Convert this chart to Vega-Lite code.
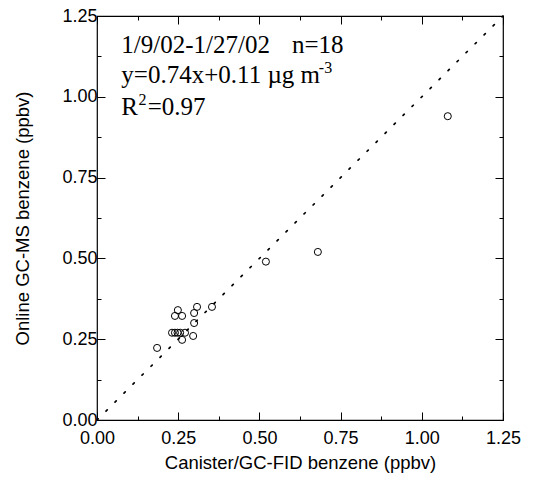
{
  "$schema": "https://vega.github.io/schema/vega-lite/v6.json",
  "width": 406,
  "height": 404,
  "autosize": "none",
  "padding": {"left": 97, "top": 16, "right": 41, "bottom": 76},
  "background": "white",
  "config": {
    "view": {"stroke": "black", "strokeWidth": 1.2},
    "font": "Liberation Sans"
  },
  "datasets": {
    "points": [
      {"canister": 0.185, "online": 0.223},
      {"canister": 0.231, "online": 0.27},
      {"canister": 0.24, "online": 0.27},
      {"canister": 0.256, "online": 0.27},
      {"canister": 0.271, "online": 0.27},
      {"canister": 0.248, "online": 0.27},
      {"canister": 0.24, "online": 0.322},
      {"canister": 0.262, "online": 0.322},
      {"canister": 0.249, "online": 0.34},
      {"canister": 0.262, "online": 0.248},
      {"canister": 0.296, "online": 0.26},
      {"canister": 0.299, "online": 0.30},
      {"canister": 0.299, "online": 0.331},
      {"canister": 0.308, "online": 0.35},
      {"canister": 0.354, "online": 0.35},
      {"canister": 0.52, "online": 0.49},
      {"canister": 0.68, "online": 0.52},
      {"canister": 1.08, "online": 0.94}
    ],
    "oneToOne": [
      {"canister": 0.0, "online": 0.0},
      {"canister": 1.25, "online": 1.25}
    ],
    "one": [{}]
  },
  "resolve": {"axis": {"x": "independent", "y": "independent"}},
  "layer": [
    {
      "data": {"name": "points"},
      "mark": {"type": "point", "shape": "circle", "filled": false, "stroke": "black", "strokeWidth": 1, "size": 50, "opacity": 1},
      "encoding": {
        "x": {
          "field": "canister", "type": "quantitative",
          "scale": {"domain": [0, 1.25], "nice": false, "zero": false},
          "axis": {
            "orient": "bottom",
            "title": "Canister/GC-FID benzene (ppbv)",
            "values": [0, 0.125, 0.25, 0.375, 0.5, 0.625, 0.75, 0.875, 1, 1.125, 1.25],
            "labelExpr": "(datum.value * 4) % 1 === 0 ? format(datum.value, '.2f') : ''",
            "tickSize": {"condition": {"test": "(datum.value * 4) % 1 !== 0", "value": -4}, "value": -8},
            "tickColor": "black", "tickWidth": 1,
            "domain": false, "grid": false,
            "labelFont": "Liberation Sans", "labelFontSize": 18, "labelColor": "black", "labelPadding": 17,
            "labelOverlap": false, "labelFlush": false,
            "titleFont": "Liberation Sans", "titleFontSize": 18.5, "titleFontWeight": "normal", "titleColor": "black", "titlePadding": 2
          }
        },
        "y": {
          "field": "online", "type": "quantitative",
          "scale": {"domain": [0, 1.25], "nice": false, "zero": false},
          "axis": {
            "orient": "left",
            "title": "Online GC-MS benzene (ppbv)",
            "values": [0, 0.125, 0.25, 0.375, 0.5, 0.625, 0.75, 0.875, 1, 1.125, 1.25],
            "labelExpr": "(datum.value * 4) % 1 === 0 ? format(datum.value, '.2f') : ''",
            "tickSize": {"condition": {"test": "(datum.value * 4) % 1 !== 0", "value": -4}, "value": -8},
            "tickColor": "black", "tickWidth": 1,
            "domain": false, "grid": false,
            "labelFont": "Liberation Sans", "labelFontSize": 18, "labelColor": "black", "labelPadding": 8,
            "labelOverlap": false, "labelFlush": false,
            "titleFont": "Liberation Sans", "titleFontSize": 18.5, "titleFontWeight": "normal", "titleColor": "black", "titlePadding": 29
          }
        }
      }
    },
    {
      "data": {"name": "oneToOne"},
      "mark": {"type": "line", "stroke": "black", "strokeWidth": 1.7, "strokeDash": [1.7, 11], "strokeCap": "round"},
      "encoding": {
        "x": {
          "field": "canister", "type": "quantitative",
          "axis": {
            "orient": "top", "title": null, "labels": false,
            "values": [0, 0.125, 0.25, 0.375, 0.5, 0.625, 0.75, 0.875, 1, 1.125, 1.25],
            "tickSize": {"condition": {"test": "(datum.value * 4) % 1 !== 0", "value": -4}, "value": -8},
            "tickColor": "black", "domain": false, "grid": false
          }
        },
        "y": {
          "field": "online", "type": "quantitative",
          "axis": {
            "orient": "right", "title": null, "labels": false,
            "values": [0, 0.125, 0.25, 0.375, 0.5, 0.625, 0.75, 0.875, 1, 1.125, 1.25],
            "tickSize": {"condition": {"test": "(datum.value * 4) % 1 !== 0", "value": -4}, "value": -8},
            "tickColor": "black", "domain": false, "grid": false
          }
        }
      }
    },
    {
      "data": {"name": "one"},
      "mark": {"type": "text", "font": "Liberation Serif", "fontSize": 25, "align": "left", "baseline": "alphabetic", "color": "black"},
      "encoding": {
        "x": {"datum": 0.075, "type": "quantitative", "axis": null},
        "y": {"datum": 1.136, "type": "quantitative", "axis": null},
        "text": {"value": "1/9/02-1/27/02"}
      }
    },
    {
      "data": {"name": "one"},
      "mark": {"type": "text", "font": "Liberation Serif", "fontSize": 25, "align": "left", "baseline": "alphabetic", "color": "black"},
      "encoding": {
        "x": {"datum": 0.6, "type": "quantitative", "axis": null},
        "y": {"datum": 1.136, "type": "quantitative", "axis": null},
        "text": {"value": "n=18"}
      }
    },
    {
      "data": {"name": "one"},
      "mark": {"type": "text", "font": "Liberation Serif", "fontSize": 25, "align": "left", "baseline": "alphabetic", "color": "black"},
      "encoding": {
        "x": {"datum": 0.075, "type": "quantitative", "axis": null},
        "y": {"datum": 1.043, "type": "quantitative", "axis": null},
        "text": {"value": "y=0.74x+0.11 µg m"}
      }
    },
    {
      "data": {"name": "one"},
      "mark": {"type": "text", "font": "Liberation Serif", "fontSize": 16, "align": "left", "baseline": "alphabetic", "color": "black"},
      "encoding": {
        "x": {"datum": 0.683, "type": "quantitative", "axis": null},
        "y": {"datum": 1.073, "type": "quantitative", "axis": null},
        "text": {"value": "-3"}
      }
    },
    {
      "data": {"name": "one"},
      "mark": {"type": "text", "font": "Liberation Serif", "fontSize": 25, "align": "left", "baseline": "alphabetic", "color": "black"},
      "encoding": {
        "x": {"datum": 0.075, "type": "quantitative", "axis": null},
        "y": {"datum": 0.944, "type": "quantitative", "axis": null},
        "text": {"value": "R"}
      }
    },
    {
      "data": {"name": "one"},
      "mark": {"type": "text", "font": "Liberation Serif", "fontSize": 16, "align": "left", "baseline": "alphabetic", "color": "black"},
      "encoding": {
        "x": {"datum": 0.128, "type": "quantitative", "axis": null},
        "y": {"datum": 0.976, "type": "quantitative", "axis": null},
        "text": {"value": "2"}
      }
    },
    {
      "data": {"name": "one"},
      "mark": {"type": "text", "font": "Liberation Serif", "fontSize": 25, "align": "left", "baseline": "alphabetic", "color": "black"},
      "encoding": {
        "x": {"datum": 0.156, "type": "quantitative", "axis": null},
        "y": {"datum": 0.944, "type": "quantitative", "axis": null},
        "text": {"value": "=0.97"}
      }
    }
  ]
}
